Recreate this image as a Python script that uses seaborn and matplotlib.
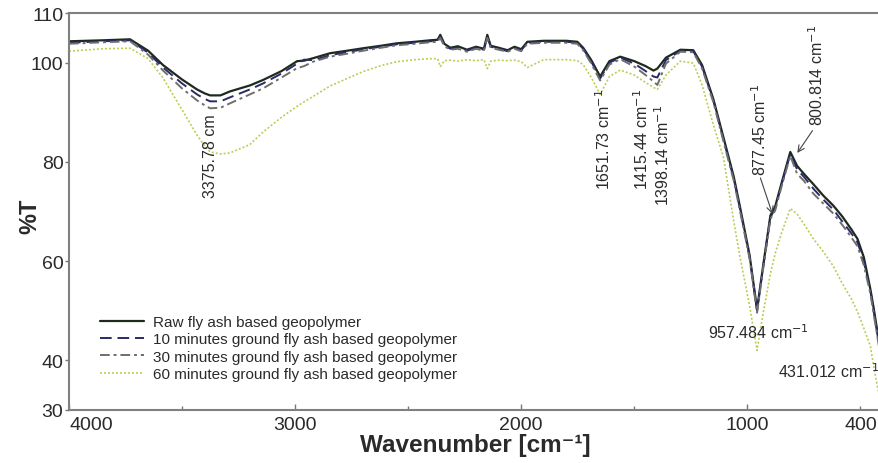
import matplotlib
matplotlib.use("Agg")
import matplotlib.pyplot as plt
import matplotlib.transforms as mtransforms
from matplotlib.lines import Line2D
import pandas as pd
import seaborn as sns

# ---------------- data ----------------
wavenumber = [4000, 3850, 3730, 3650, 3584, 3500, 3434, 3400, 3376, 3330,
              3288, 3200, 3142, 3060, 2991, 2960, 2920, 2845, 2770, 2699,
              2620, 2549, 2470, 2403, 2370, 2358, 2340, 2314, 2280, 2240,
              2200, 2165, 2150, 2135, 2100, 2060, 2030, 2000, 1973, 1900,
              1800, 1752, 1726, 1690, 1651, 1610, 1562, 1500, 1450, 1415,
              1398, 1360, 1296, 1239, 1200, 1150, 1106, 1060, 1031, 990,
              957, 930, 898, 877, 850, 810, 780, 750, 708, 664,
              620, 580, 540, 513, 485, 456, 440, 425, 410, 400]

raw = [104.3, 104.5, 104.7, 102.4, 99.5, 96.6, 94.6, 93.8, 93.4, 93.4,
       94.2, 95.4, 96.5, 98.3, 100.3, 100.4, 100.9, 101.9, 102.4, 102.9,
       103.4, 103.9, 104.2, 104.5, 104.6, 105.6, 103.8, 103.0, 103.3, 102.6,
       103.2, 102.8, 105.6, 103.4, 103.0, 102.5, 103.2, 102.7, 104.2, 104.4,
       104.4, 104.2, 103.0, 100.5, 97.2, 100.3, 101.2, 100.3, 99.3, 98.4,
       98.8, 101.0, 102.6, 102.5, 99.5, 92.6, 85.0, 77.0, 70.6, 61.2,
       50.3, 59.1, 69.2, 71.0, 75.5, 82.0, 79.2, 77.6, 75.5, 73.2,
       71.2, 69.0, 66.4, 64.5, 60.8, 54.4, 50.2, 45.8, 41.6, 39.2]

ground_10 = [104.0, 104.3, 104.5, 102.0, 99.0, 95.8, 93.6, 92.7, 92.2, 92.2,
             93.0, 94.6, 95.8, 97.8, 99.8, 100.6, 100.5, 101.5, 102.1, 102.7,
             103.2, 103.7, 104.0, 104.3, 104.4, 105.2, 103.5, 102.8, 103.0, 102.4,
             103.0, 102.6, 105.2, 103.2, 102.8, 102.3, 103.0, 102.5, 104.0, 104.2,
             104.2, 104.0, 102.8, 100.2, 96.8, 100.0, 101.0, 99.8, 98.3, 97.2,
             97.0, 100.5, 102.4, 102.3, 99.2, 92.3, 84.6, 76.6, 70.2, 60.8,
             50.0, 58.8, 68.8, 70.6, 75.2, 81.6, 78.5, 77.0, 74.6, 72.4,
             70.4, 68.0, 65.6, 63.8, 60.0, 54.0, 49.6, 45.5, 41.2, 38.8]

ground_30 = [103.8, 104.1, 104.3, 101.6, 98.4, 94.8, 92.4, 91.4, 90.8, 90.9,
             91.8, 93.6, 94.8, 97.0, 98.9, 99.3, 100.2, 101.2, 101.8, 102.4,
             103.0, 103.5, 103.8, 104.1, 104.2, 105.0, 103.3, 102.6, 102.8, 102.2,
             102.8, 102.4, 105.0, 103.0, 102.6, 102.2, 102.8, 102.3, 103.8, 104.0,
             104.0, 103.8, 102.5, 99.8, 96.4, 99.6, 100.7, 99.2, 97.5, 96.2,
             95.5, 99.8, 102.2, 102.1, 98.8, 92.0, 84.2, 76.2, 69.8, 60.5,
             49.6, 58.5, 68.5, 70.2, 74.8, 81.2, 77.6, 76.2, 73.6, 71.6,
             69.6, 67.3, 64.8, 63.0, 59.2, 53.5, 49.0, 44.8, 40.6, 38.2]

ground_60 = [102.3, 102.8, 102.9, 100.8, 96.9, 90.5, 85.4, 83.2, 82.0, 81.6,
             81.8, 83.5, 86.0, 89.0, 91.2, 92.1, 93.2, 95.3, 96.8, 98.2,
             99.4, 100.2, 100.6, 100.8, 100.8, 99.2, 100.4, 100.5, 100.3, 100.6,
             100.4, 100.6, 98.8, 100.3, 100.5, 100.4, 100.5, 100.2, 99.0, 100.6,
             100.6, 100.4, 99.6, 97.0, 93.6, 97.2, 98.5, 97.5, 96.0, 95.0,
             94.6, 97.5, 100.3, 99.9, 95.5, 87.4, 81.0, 68.0, 60.5, 51.0,
             42.0, 49.5, 57.5, 61.5, 65.5, 70.6, 69.5, 67.5, 64.5, 61.9,
             59.0, 55.5, 52.4, 49.8, 46.5, 42.9, 38.5, 34.8, 31.5, 30.0]

series_names = ["Raw fly ash based geopolymer",
                "10 minutes ground fly ash based geopolymer",
                "30 minutes ground fly ash based geopolymer",
                "60 minutes ground fly ash based geopolymer"]
series_values = [raw, ground_10, ground_30, ground_60]

x_ticks = [4000, 3000, 2000, 1000, 400]
x_minor_ticks = [3500, 2500, 1500, 500]
y_ticks = [30, 40, 60, 80, 100, 110]

# ---------------- styling ----------------
colors = {series_names[0]: "#1e2a1e",
          series_names[1]: "#2a2a66",
          series_names[2]: "#6e6e6e",
          series_names[3]: "#bccd55"}
dashes = {series_names[0]: "",
          series_names[1]: (6, 3),
          series_names[2]: (5, 2, 1.5, 2),
          series_names[3]: (1.2, 1.2)}
widths = {series_names[0]: 1.6,
          series_names[1]: 1.4,
          series_names[2]: 1.4,
          series_names[3]: 1.2}

sns.set_theme(style="white")
plt.rcParams["font.family"] = ["Liberation Sans", "DejaVu Sans"]
text_color = "#2a2a2a"

frames = []
for name, vals in zip(series_names, series_values):
    frames.append(pd.DataFrame({"Wavenumber": wavenumber, "T": vals, "series": name}))
df = pd.concat(frames, ignore_index=True)

fig = plt.figure(figsize=(8.79, 4.64), dpi=100)
ax = fig.add_axes([69 / 879, 53 / 464, 814 / 879, 397 / 464])

sns.lineplot(data=df, x="Wavenumber", y="T", hue="series", style="series",
             size="series", palette=colors, dashes=dashes, sizes=widths,
             hue_order=series_names, style_order=series_names,
             size_order=series_names, estimator=None, sort=False,
             legend=False, ax=ax)

ax.set_xlim(4000, 400)
ax.set_ylim(30, 110)
ax.set_xticks(x_ticks)
ax.set_xticks(x_minor_ticks, minor=True)
ax.set_xticklabels([str(t) for t in x_ticks])
ax.set_yticks(y_ticks)
ax.set_yticklabels([str(t) for t in y_ticks])

ax.tick_params(axis="x", which="both", direction="in", length=4, width=1,
               color="#777777", labelsize=14, labelcolor=text_color, pad=4,
               bottom=True)
ax.tick_params(axis="x", which="minor", length=3)
ax.tick_params(axis="y", direction="out", length=3, width=1, color="#777777",
               labelsize=14, labelcolor=text_color, pad=1, left=True)

xl = ax.get_xticklabels()
xl[0].set_ha("left")
xl[-1].set_ha("right")
xl[-1].set_transform(xl[-1].get_transform() +
                     mtransforms.ScaledTranslation(-6 / 100, 0, fig.dpi_scale_trans))

for s in ax.spines.values():
    s.set_color("#808080")
    s.set_linewidth(1.5)

ax.set_xlabel("Wavenumber [cm\u207b\u00b9]", fontsize=17.5, fontweight="bold",
              color=text_color)
ax.xaxis.set_label_coords((475 - 69) / 814, (411 - 434) / 397)
ax.set_ylabel("%T", fontsize=17, fontweight="bold", color=text_color)
ax.yaxis.set_label_coords((41 - 69) / 814, (411 - 216) / 397)

# legend
handles = []
for n in series_names:
    h = Line2D([0], [0], color=colors[n], lw=widths[n])
    if dashes[n]:
        h.set_dashes(dashes[n])
    handles.append(h)
leg = ax.legend(handles, series_names, loc="upper left",
                bbox_to_anchor=((100 - 69) / 814, (411 - 316) / 397),
                frameon=False, fontsize=11, handlelength=2.9,
                handletextpad=0.55, labelspacing=0.22, borderpad=0,
                borderaxespad=0)
for t in leg.get_texts():
    t.set_color(text_color)

# peak annotations
ann_kw = dict(fontsize=11.5, color=text_color)
ax.text(3376, 89.8, "3375.78 cm", rotation=90, ha="center", va="top", **ann_kw)
ax.text(1637, 95.0, "1651.73 cm$^{-1}$", rotation=90, ha="center", va="top", **ann_kw)
ax.text(1469, 95.0, "1415.44 cm$^{-1}$", rotation=90, ha="center", va="top", **ann_kw)
ax.text(1376, 91.6, "1398.14 cm$^{-1}$", rotation=90, ha="center", va="top", **ann_kw)
ax.annotate("877.45 cm$^{-1}$", xy=(889, 69.5), xytext=(947, 96.0),
            rotation=90, ha="center", va="top",
            arrowprops=dict(arrowstyle="->", color="#444444", lw=0.8,
                            shrinkA=0, shrinkB=0,
                            relpos=(0.5, 0.0)), **ann_kw)
ax.annotate("800.814 cm$^{-1}$", xy=(779, 81.8), xytext=(695, 107.8),
            rotation=90, ha="center", va="top",
            arrowprops=dict(arrowstyle="->", color="#444444", lw=0.8,
                            shrinkA=2, shrinkB=0,
                            relpos=(0.5, 0.0)), **ann_kw)
ax.text(1173, 45.8, "957.484 cm$^{-1}$", ha="left", va="center", **ann_kw)
ax.text(863, 37.9, "431.012 cm$^{-1}$", ha="left", va="center", **ann_kw)

fig.savefig("out.png", dpi=100)
